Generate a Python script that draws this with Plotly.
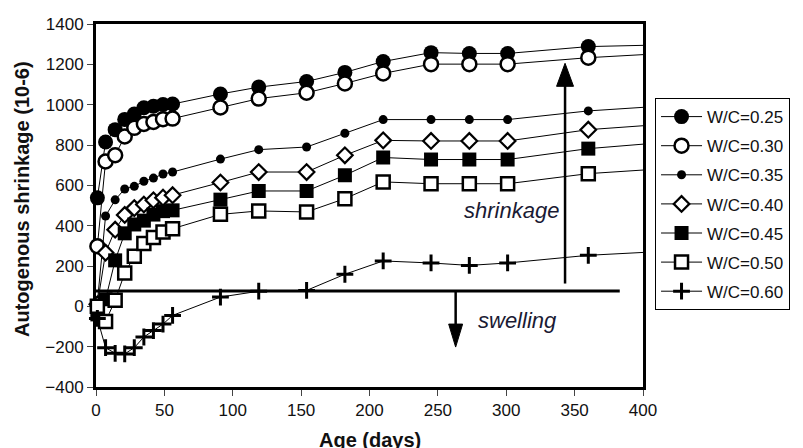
import plotly.graph_objects as go

FONT = "Liberation Sans, Arial, sans-serif"
INK = "#111111"

days = [1, 7, 14, 21, 28, 35, 42, 49, 56, 91, 119, 154, 182, 210, 245, 273, 301, 360]

wc_025 = [538, 815, 876, 927, 954, 985, 992, 1001, 1003, 1053, 1087, 1115, 1160, 1214, 1258, 1254, 1254, 1288]
wc_030 = [298, 718, 749, 842, 885, 904, 914, 928, 931, 986, 1030, 1059, 1105, 1155, 1201, 1201, 1201, 1233]
wc_035 = [20, 448, 528, 582, 595, 620, 636, 656, 666, 730, 777, 790, 858, 926, 926, 926, 926, 969]
wc_040 = [10, 266, 380, 453, 487, 505, 526, 539, 551, 614, 666, 666, 749, 823, 820, 820, 820, 876]
wc_045 = [-40, 35, 228, 362, 406, 425, 455, 472, 476, 529, 572, 572, 650, 738, 728, 728, 728, 782]
wc_050 = [0, -75, 30, 165, 248, 311, 341, 369, 385, 456, 473, 468, 534, 617, 608, 608, 608, 658]
wc_060 = [-60, -205, -233, -236, -205, -152, -120, -88, -45, 46, 75, 79, 159, 225, 215, 203, 215, 253]

# trend lines run on past the last reading
tail_days = [360, 405]
tail_end = [1295, 1250, 989, 898, 807, 678, 269]

names = ["W/C=0.25", "W/C=0.30", "W/C=0.35", "W/C=0.40", "W/C=0.45", "W/C=0.50", "W/C=0.60"]
series = [wc_025, wc_030, wc_035, wc_040, wc_045, wc_050, wc_060]

MARKERS = [
    dict(symbol="circle", size=15, color="black", line=dict(width=0)),
    dict(symbol="circle", size=14, color="white", line=dict(width=2.5, color="black")),
    dict(symbol="circle", size=9, color="black", line=dict(width=0)),
    dict(symbol="diamond", size=12, color="white", line=dict(width=2.2, color="black")),
    dict(symbol="square", size=14, color="black", line=dict(width=0)),
    dict(symbol="square", size=13, color="white", line=dict(width=2.5, color="black")),
    dict(symbol="cross-thin", size=12, color="black", line=dict(width=3, color="black")),
]

fig = go.Figure()

for vals, end in zip(series, tail_end):
    fig.add_trace(go.Scatter(x=tail_days, y=[vals[-1], end], mode="lines",
                             line=dict(color="black", width=1), showlegend=False,
                             hoverinfo="skip"))

for name, vals, mk in zip(names, series, MARKERS):
    fig.add_trace(go.Scatter(x=days, y=vals, name=name, mode="lines+markers",
                             line=dict(color="black", width=1), marker=mk,
                             cliponaxis=False, legendgroup=name))

# shrinkage / swelling reference line and arrows
base_y = 76
fig.add_shape(type="line", x0=0, x1=383, y0=base_y, y1=base_y,
              line=dict(color="black", width=3))
fig.add_shape(type="line", x0=343, x1=343, y0=113, y1=1100,
              line=dict(color="black", width=2.5))
fig.add_shape(type="path", path="M 336.8 1091 L 343 1205 L 349.2 1091 Z",
              fillcolor="black", line=dict(color="black", width=1))
fig.add_shape(type="line", x0=263, x1=263, y0=base_y, y1=-95,
              line=dict(color="black", width=2.5))
fig.add_shape(type="path", path="M 257.9 -88 L 263 -202 L 268.1 -88 Z",
              fillcolor="black", line=dict(color="black", width=1))

fig.add_annotation(x=303.6, y=476, text="<i>shrinkage</i>", showarrow=False,
                   font=dict(family=FONT, size=22, color="#1a1a33"))
fig.add_annotation(x=308, y=-69, text="<i>swelling</i>", showarrow=False,
                   font=dict(family=FONT, size=22, color="#1a1a33"))

fig.add_annotation(xref="paper", yref="paper", x=-0.159, y=0.518,
                   text="<b>Autogenous shrinkage (10-6)</b>", textangle=-90,
                   showarrow=False, font=dict(family=FONT, size=20, color=INK))
fig.add_annotation(xref="paper", yref="paper", x=0.5, y=-0.146, yanchor="middle",
                   text="<b>Age (days)</b>", showarrow=False,
                   font=dict(family=FONT, size=20, color=INK))

axis_common = dict(showgrid=False, zeroline=False, showline=True, linewidth=3,
                   linecolor="black", mirror=True, ticks="outside", ticklen=6,
                   tickwidth=1, tickcolor="#444", layer="below traces",
                   automargin=False,
                   tickfont=dict(family=FONT, size=17, color=INK))

# the page body adds 8px at top-left, so the figure is kept inside the window
fig.update_layout(
    width=795, height=440,
    margin=dict(l=88, r=160, t=16, b=61),
    paper_bgcolor="white", plot_bgcolor="white",
    font=dict(family=FONT, color=INK),
    xaxis=dict(range=[0, 400], tickvals=list(range(0, 401, 50)), **axis_common),
    yaxis=dict(range=[-400, 1400], tickvals=list(range(-400, 1401, 200)), **axis_common),
    legend=dict(x=1.022, y=0.796, xanchor="left", yanchor="top",
                bgcolor="white", bordercolor="black", borderwidth=1,
                itemwidth=41,
                font=dict(family=FONT, size=17, color=INK), tracegroupgap=4),
    showlegend=True,
)

fig.write_html("out.html")
